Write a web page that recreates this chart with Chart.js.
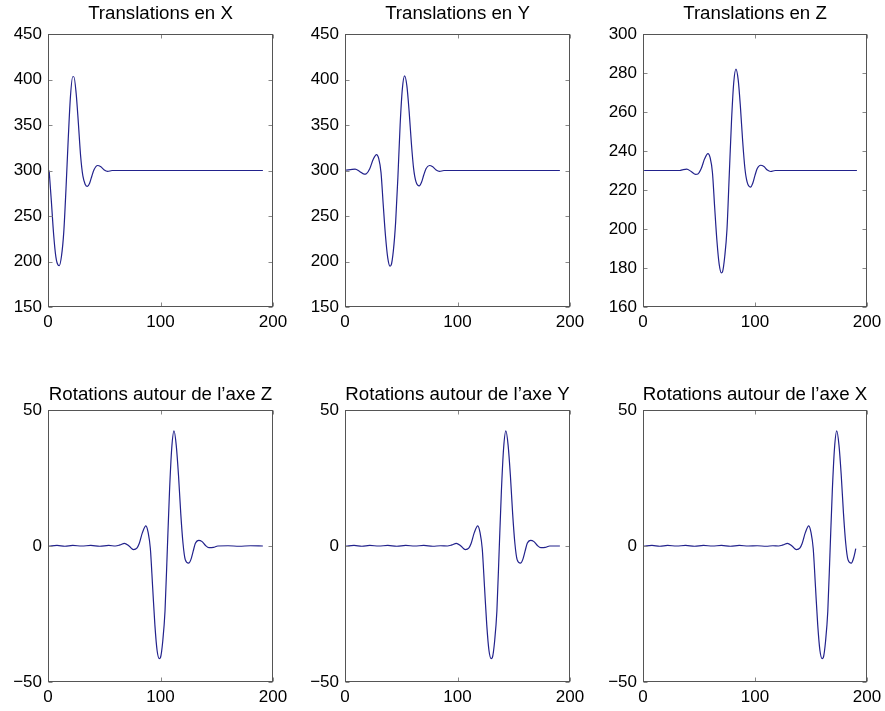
<!DOCTYPE html>
<html><head><meta charset="utf-8">
<script src="https://cdn.jsdelivr.net/npm/chart.js@4/dist/chart.umd.min.js"></script>
<style>
html,body{margin:0;padding:0;background:#fff;}
body{width:885px;height:711px;position:relative;overflow:hidden;}
canvas{position:absolute;}
</style></head>
<body>
<canvas id="c0"></canvas><canvas id="c1"></canvas><canvas id="c2"></canvas>
<canvas id="c3"></canvas><canvas id="c4"></canvas><canvas id="c5"></canvas>
<script>
// ---- data ----
const titles = ["Translations en X", "Translations en Y", "Translations en Z",
  "Rotations autour de l\u2019axe Z", "Rotations autour de l\u2019axe Y", "Rotations autour de l\u2019axe X"];

const xTicks = [0, 100, 200];
const yTicksTXY = [150, 200, 250, 300, 350, 400, 450];
const yTicksTZ = [160, 180, 200, 220, 240, 260, 280, 300];
const yTicksRot = [-50, 0, 50];

const transX_x = [1, 3, 5, 7, 9, 10, 12, 14, 16, 18, 20, 22, 23, 25, 27, 29, 31, 33, 35, 37, 39, 41, 44, 47, 50, 53, 57, 191];
const transX_y = [300, 266, 230, 205, 196, 195.5, 206, 232, 280, 335, 382, 403, 403, 385, 352, 316, 294, 285, 282.5, 286, 294, 301, 305.5, 304, 300.5, 299, 300, 300];

const transY_x = [1, 5, 9, 13, 17, 19, 22, 25, 28, 30, 32, 34, 36, 38, 40, 41, 43, 45, 47, 49, 51, 53, 55, 57, 59, 61, 63, 66, 68, 70, 72, 75, 78, 81, 84, 88, 191];
const transY_y = [300.5, 301, 301.5, 299, 296, 296.5, 302, 312, 317.5, 313, 298, 262, 228, 204, 195, 196, 212, 243, 292, 350, 390, 404, 393, 365, 330, 302, 288, 283, 287, 295, 302, 305.5, 304, 300.5, 299, 300, 300];

const transZ_x = [1, 33, 35, 39, 43, 47, 49, 52, 55, 58, 60, 62, 64, 66, 68, 70, 71, 73, 75, 77, 79, 81, 83, 85, 87, 89, 91, 93, 96, 98, 100, 102, 105, 108, 111, 114, 118, 191];
const transZ_y = [230, 230, 230.3, 230.7, 229.5, 228, 228.2, 231, 236, 238.7, 236.5, 229, 211, 194, 182, 177.5, 178, 186, 200, 227.5, 255, 275, 282, 276.5, 262.5, 245, 231, 224, 221.5, 223.5, 227.5, 231, 232.7, 232, 230.2, 229.5, 230, 230];

const rotZ_x = [1, 8, 15, 22, 30, 38, 46, 54, 60, 64, 68, 72, 76, 79, 81, 84, 87, 89, 91, 93, 95, 97, 99, 100, 102, 104, 106, 108, 110, 112, 114, 116, 118, 120, 122, 125, 127, 129, 131, 134, 137, 140, 143, 147, 151, 160, 170, 180, 191];
const rotZ_y = [0, 0.2, -0.1, 0.2, 0, 0.2, -0.1, 0.2, 0, 0.4, 1, 0, -1.3, -0.8, 0.8, 5, 7.4, 5, -1, -15, -29, -38.5, -41.4, -41, -35, -24, -2, 20, 36, 42.3, 37, 26, 12, 1, -5, -6.3, -5, -2, 1, 2.1, 1.6, 0.2, -0.6, -0.5, 0, 0.1, -0.1, 0.1, 0];

const rotY_x = [1, 8, 15, 22, 30, 38, 46, 54, 62, 70, 78, 85, 91, 95, 99, 103, 107, 110, 112, 115, 118, 120, 122, 124, 126, 128, 130, 131, 133, 135, 137, 139, 141, 143, 145, 147, 149, 151, 153, 156, 158, 160, 162, 165, 168, 171, 174, 178, 182, 191];
const rotY_y = [0, 0.2, -0.1, 0.2, 0, 0.2, -0.1, 0.2, 0, 0.2, -0.1, 0.1, 0, 0.4, 1, 0, -1.3, -0.8, 0.8, 5, 7.4, 5, -1, -15, -29, -38.5, -41.4, -41, -35, -24, -2, 20, 36, 42.3, 37, 26, 12, 1, -5, -6.3, -5, -2, 1, 2.1, 1.6, 0.2, -0.6, -0.5, 0, 0];

const rotX_x = [1, 8, 15, 22, 30, 38, 46, 54, 62, 70, 78, 86, 94, 102, 110, 116, 121, 125, 129, 133, 137, 140, 142, 145, 148, 150, 152, 154, 156, 158, 160, 161, 163, 165, 167, 169, 171, 173, 175, 177, 179, 181, 183, 186, 188, 190];
const rotX_y = [0, 0.2, -0.1, 0.2, 0, 0.2, -0.1, 0.2, 0, 0.2, -0.1, 0.2, 0, 0.1, -0.1, 0.1, 0, 0.4, 1, 0, -1.3, -0.8, 0.8, 5, 7.4, 5, -1, -15, -29, -38.5, -41.4, -41, -35, -24, -2, 20, 36, 42.3, 37, 26, 12, 1, -5, -6.3, -4.5, -1];

// ---- layout / style ----
const FONT = "'Liberation Sans', Arial, Helvetica, sans-serif";
const LINE_COLOR = '#22228c';
const AXIS_COLOR = '#555';
const TITLE_SIZE = 18.7;
const colLeft = [48, 345, 643], colW = [225, 225, 224];
const rowTop = [34, 410], rowH = [273, 272];
const TITLE_SPACE = 40, YAXIS_W = 48, XAXIS_H = 32;

const panels = [
  {xs: transX_x, ys: transX_y, yt: yTicksTXY},
  {xs: transY_x, ys: transY_y, yt: yTicksTXY},
  {xs: transZ_x, ys: transZ_y, yt: yTicksTZ},
  {xs: rotZ_x, ys: rotZ_y, yt: yTicksRot},
  {xs: rotY_x, ys: rotY_y, yt: yTicksRot},
  {xs: rotX_x, ys: rotX_y, yt: yTicksRot}
];

const boxPlugin = {
  id: 'matlabBox',
  afterDraw(chart) {
    const {ctx, chartArea: a, scales: {x, y}} = chart;
    const L = Math.round(a.left) + 0.5, R = Math.round(a.right) - 0.5;
    const T = Math.round(a.top) + 0.5, B = Math.round(a.bottom) - 0.5;
    ctx.save();
    ctx.lineWidth = 1;
    ctx.strokeStyle = '#888';
    const tl = 4;
    ctx.beginPath();
    x.ticks.forEach(t => {
      const px = Math.round(x.getPixelForValue(t.value)) + 0.5;
      ctx.moveTo(px, B); ctx.lineTo(px, B - tl);
      ctx.moveTo(px, T); ctx.lineTo(px, T + tl);
    });
    y.ticks.forEach(t => {
      const py = Math.round(y.getPixelForValue(t.value)) + 0.5;
      ctx.moveTo(L, py); ctx.lineTo(L + tl, py);
      ctx.moveTo(R, py); ctx.lineTo(R - tl, py);
    });
    ctx.stroke();
    ctx.strokeStyle = AXIS_COLOR;
    ctx.strokeRect(L, T, R - L, B - T);
    ctx.restore();
  }
};

const fmt = v => v < 0 ? '\u2212' + Math.abs(v) : String(v);

panels.forEach((p, i) => {
  const row = Math.floor(i / 3), col = i % 3;
  const pw = colW[col], ph = rowH[row];
  const cv = document.getElementById('c' + i);
  const W = YAXIS_W + pw + YAXIS_W, H = TITLE_SPACE + ph + XAXIS_H;
  cv.width = W; cv.height = H;
  cv.style.width = W + 'px'; cv.style.height = H + 'px';
  cv.style.left = (colLeft[col] - YAXIS_W) + 'px';
  cv.style.top = (rowTop[row] - TITLE_SPACE) + 'px';
  const titleCenter = row === 0 ? 20 : 24.5;
  const tPadTop = titleCenter - TITLE_SIZE * 1.2 / 2;
  const tPadBot = TITLE_SPACE - TITLE_SIZE * 1.2 - tPadTop;
  const yt = p.yt;
  new Chart(cv, {
    type: 'line',
    data: {
      datasets: [{
        data: p.xs.map((xv, k) => ({x: xv, y: p.ys[k]})),
        borderColor: LINE_COLOR,
        borderWidth: 1.2,
        pointRadius: 0,
        fill: false,
        cubicInterpolationMode: 'monotone'
      }]
    },
    options: {
      responsive: false,
      animation: false,
      devicePixelRatio: 1,
      layout: {padding: 0},
      plugins: {
        legend: {display: false},
        tooltip: {enabled: false},
        title: {
          display: true, text: titles[i], color: '#000', align: 'center',
          font: {family: FONT, size: TITLE_SIZE, weight: 'normal', lineHeight: 1.2},
          padding: {top: tPadTop, bottom: tPadBot}
        }
      },
      scales: {
        x: {
          type: 'linear', min: xTicks[0], max: xTicks[xTicks.length - 1],
          afterBuildTicks: s => { s.ticks = xTicks.map(v => ({value: v})); },
          ticks: {color: '#000', font: {family: FONT, size: 17}, padding: 5, maxRotation: 0, autoSkip: false, callback: fmt},
          grid: {display: false, drawTicks: false},
          border: {display: false},
          afterFit: s => { s.height = XAXIS_H; }
        },
        y: {
          type: 'linear', position: 'left', min: yt[0], max: yt[yt.length - 1],
          afterBuildTicks: s => { s.ticks = yt.map(v => ({value: v})); },
          ticks: {color: '#000', font: {family: FONT, size: 17}, padding: 6, autoSkip: false, callback: fmt},
          grid: {display: false, drawTicks: false},
          border: {display: false},
          afterFit: s => { s.width = YAXIS_W; }
        },
        yRight: {
          type: 'linear', position: 'right', min: yt[0], max: yt[yt.length - 1],
          ticks: {display: false},
          grid: {display: false, drawTicks: false},
          border: {display: false},
          afterFit: s => { s.width = YAXIS_W; }
        }
      }
    },
    plugins: [boxPlugin]
  });
});
</script>
</body></html>
